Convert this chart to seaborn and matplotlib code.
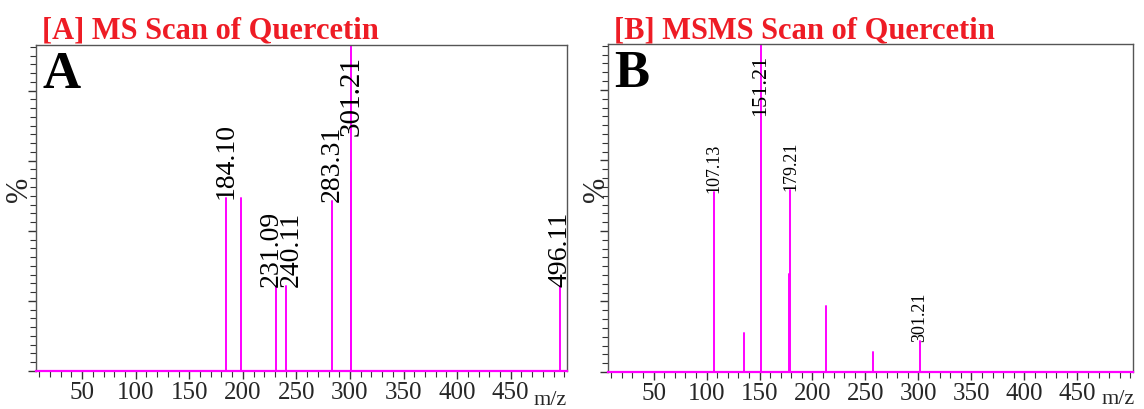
import numpy as np
import pandas as pd
import matplotlib
matplotlib.use("Agg")
import matplotlib.pyplot as plt
from matplotlib.ticker import MultipleLocator
import seaborn as sns

# ---------------- data ----------------
a_mz = [184.10, 198.0, 231.09, 240.11, 283.31, 300.9, 301.21, 496.11]
a_int = [53, 53, 26, 26, 52, 61, 100, 26]
a_labels = ["184.10", "231.09", "240.11", "283.31", "301.21", "496.11"]

b_mz = [107.13, 135.4, 151.21, 177.6, 179.21, 213.2, 257.4, 301.21]
b_int = [55, 12, 100, 30, 55.5, 20, 6, 9.5]
b_labels = ["107.13", "151.21", "179.21", "301.21"]

x_ticks = [50, 100, 150, 200, 250, 300, 350, 400, 450]
titles = ["[A] MS Scan of Quercetin", "[B] MSMS Scan of Quercetin"]
letters = ["A", "B"]

MAG = "#FF00FF"
RED = "#EE1C25"

# small horizontal nudges (pixels) for crowded labels
nudges = {"231.09": -5, "240.11": 5}

sns.set_style("white")
plt.rcParams["font.family"] = ["Liberation Serif", "DejaVu Serif"]

fig = plt.figure(figsize=(11.44, 4.10), dpi=100)
ax_a = fig.add_axes([36 / 1144, 38 / 410, 531 / 1144, 326 / 410])
ax_b = fig.add_axes([608 / 1144, 37 / 410, 525 / 1144, 328 / 410])


def sticks(mz, inten):
    rows = []
    for i, (m, v) in enumerate(zip(mz, inten)):
        rows.append({"peak": i, "mz": m, "int": 0.0})
        rows.append({"peak": i, "mz": m, "int": v})
    return pd.DataFrame(rows)


def draw(ax, mz, inten, labels, title, letter, lab_fs, top_fs, title_x,
         pct_x, mz_pos):
    df = sticks(mz, inten)
    sns.lineplot(data=df, x="mz", y="int", units="peak", estimator=None,
                 sort=False, color=MAG, lw=1.4, ax=ax, legend=False)
    ax.set_xlim(7, 502.5)
    ax.set_ylim(0, 100)
    ax.set_xlabel("")
    ax.set_ylabel("%", fontsize=22, rotation=90, va="center", ha="center")
    ax.yaxis.set_label_coords(pct_x, 0.56)
    ax.xaxis.set_major_locator(MultipleLocator(50))
    ax.xaxis.set_minor_locator(MultipleLocator(10))
    ax.set_xticks(x_ticks)
    ax.yaxis.set_major_locator(MultipleLocator(21.5))
    ax.yaxis.set_minor_locator(MultipleLocator(21.5 / 8))
    ax.set_yticklabels([])
    ax.tick_params(axis="x", which="major", direction="out", length=6,
                   width=1, color="#333333", labelsize=18, pad=1, bottom=True)
    ax.tick_params(axis="x", which="minor", direction="out", length=4,
                   width=0.8, color="#333333", bottom=True)
    ax.tick_params(axis="y", which="major", direction="out", length=6,
                   width=1, color="#333333", left=True)
    ax.tick_params(axis="y", which="minor", direction="out", length=4,
                   width=0.8, color="#333333", left=True)
    for s in ["top", "right", "left"]:
        ax.spines[s].set_color("#555555")
        ax.spines[s].set_linewidth(1.0)
    ax.spines["bottom"].set_color(MAG)
    ax.spines["bottom"].set_linewidth(1.6)

    for lab in labels:
        m = float(lab)
        v = inten[int(np.argmin([abs(x - m) for x in mz]))]
        dx = nudges.get(lab, 0) * 72 / 100
        if v >= 99:
            ax.annotate(lab, (m, 97), xytext=(dx, 0), textcoords="offset points",
                        rotation=90, ha="center", va="top",
                        fontsize=top_fs, color="black")
        else:
            ax.annotate(lab, (m, v), xytext=(dx, 0), textcoords="offset points",
                        rotation=90, ha="center", va="bottom",
                        fontsize=lab_fs, color="black")

    ax.text(0.012, 0.985, letter, transform=ax.transAxes, ha="left", va="top",
            fontsize=38, fontweight="bold", color="black")
    fig.text(title_x, 0.905, title, ha="left", va="baseline", fontsize=22,
             fontweight="bold", color=RED)
    ax.text(mz_pos[0], mz_pos[1], "m/z", transform=ax.transAxes,
            ha="right", va="baseline", fontsize=16)


draw(ax_a, a_mz, a_int, a_labels, titles[0], letters[0], 20, 21,
     42 / 1144, -0.032, (1.0, -0.100))
draw(ax_b, b_mz, b_int, b_labels, titles[1], letters[1], 13, 16,
     614 / 1144, -0.021, (1.004, -0.093))

fig.savefig("out.png", dpi=100)
